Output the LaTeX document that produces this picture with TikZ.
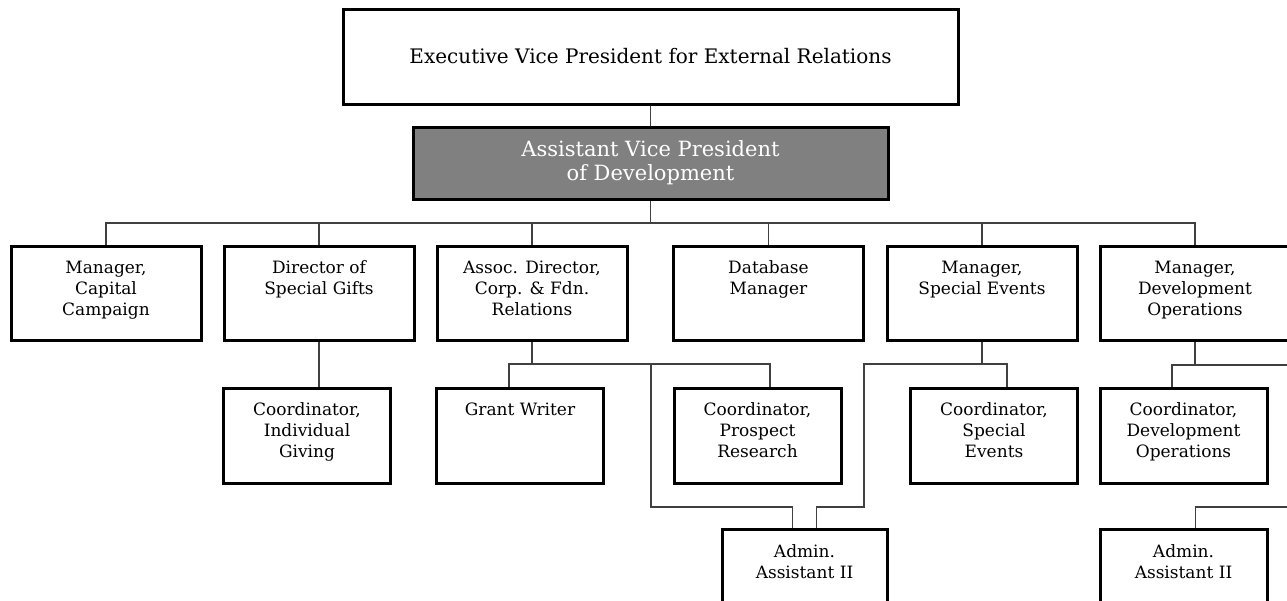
\documentclass[tikz,border=0pt]{standalone}
\usepackage{fontspec}
\setmainfont{DejaVu Serif}
\usetikzlibrary{calc}

% top-aligned text block for the fixed-size boxes
\newcommand{\boxlines}[1]{\parbox[c][80pt][t]{160pt}{\centering\rule{0pt}{20pt}#1}}

\begin{document}
\begin{tikzpicture}[x=1pt, y=-1pt,
    post/.style={draw=black, line width=3pt, minimum width=190pt, minimum height=94pt,
        inner sep=0pt, font=\fontsize{17}{21}\selectfont},
    subpost/.style={post, minimum width=167pt, minimum height=95pt},
    link/.style={draw=black!75, line width=1.5pt}]
    \useasboundingbox (0,0) rectangle (1287,600);
    \clip (0,0) rectangle (1287,600);

    % top of the chart
    \node (exec_vp) at (650.5, 56.5) [
        draw=black,
        line width=3pt,
        minimum width=615pt,
        minimum height=95pt,
        font=\fontsize{20}{24}\selectfont
    ] {Executive Vice President for External Relations};
    \node (asst_vp) at (650.5, 163) [
        draw=black,
        fill=gray,
        line width=3pt,
        minimum width=475pt,
        minimum height=72pt,
        align=center,
        text=white,
        font=\fontsize{21}{24}\selectfont
    ] {Assistant Vice President\\of Development};

    % first row
    \node[post] (cap_campaign) at (106, 293) {\boxlines{Manager,\\Capital\\Campaign}};
    \node[post] (special_gifts) at (319, 293) {\boxlines{Director of\\Special Gifts}};
    \node[post] (corp_fdn) at (532, 293) {\boxlines{Assoc. Director,\\Corp. \& Fdn.\\Relations}};
    \node[post] (database) at (768.5, 293) {\boxlines{Database\\Manager}};
    \node[post] (events_mgr) at (982, 293) {\boxlines{Manager,\\Special Events}};
    \node[post] (devops_mgr) at (1195, 293) {\boxlines{Manager,\\Development\\Operations}};

    % second row
    \node[subpost] (indiv_giving) at (307, 435.5) {\boxlines{Coordinator,\\Individual\\Giving}};
    \node[subpost] (grant_writer) at (520, 435.5) {\boxlines{Grant Writer}};
    \node[subpost] (prospect) at (757.5, 435.5) {\boxlines{Coordinator,\\Prospect\\Research}};
    \node[subpost] (events_coord) at (994, 435.5) {\boxlines{Coordinator,\\Special\\Events}};
    \node[subpost] (devops_coord) at (1183.5, 435.5) {\boxlines{Coordinator,\\Development\\Operations}};
    \node[subpost, minimum width=165pt] (admin_mid) at (804.5, 577) {\boxlines{Admin.\\Assistant II}};
    \node[subpost] (admin_right) at (1183.5, 577) {\boxlines{Admin.\\Assistant II}};

    % bends and free ends
    \coordinate (main_bus) at (650.5, 223);
    \coordinate (split) at (651, 364);
    \coordinate (jog) at (864, 364);
    \coordinate (low_bus) at (0, 507);
    \coordinate (edge_top) at (1290, 365);
    \coordinate (edge_low) at (1290, 507);
    \path (admin_mid.north) + (-12, 0) coordinate (mid_left);
    \path (admin_mid.north) + (12, 0) coordinate (mid_right);
    \path (admin_right.north) + (12, 0) coordinate (right_port);
    \path (events_coord.north) + (13, 0) coordinate (events_port);
    \path (devops_coord.north) + (-11.5, 0) coordinate (devops_port);
    \path (grant_writer.north) + (-11, 0) coordinate (grant_port);
    \path (prospect.north) + (12.5, 0) coordinate (prospect_port);

    % connectors
    \draw[link] (exec_vp) -- (asst_vp);
    \draw[link] (asst_vp) -- (main_bus);
    \draw[link] (cap_campaign.north) |- (main_bus) -| (devops_mgr.north);
    \foreach \unit in {special_gifts, corp_fdn, database, events_mgr}
        \draw[link] (\unit.north) -- (\unit.north |- main_bus);
    \draw[link] (special_gifts.south) -- (special_gifts.south |- indiv_giving.north);
    \draw[link] (corp_fdn.south) -- (corp_fdn.south |- split);
    \draw[link] (grant_port) |- (split) -| (prospect_port);
    \draw[link] (split) |- (mid_left |- low_bus) -- (mid_left);
    \draw[link] (mid_right) |- (jog |- low_bus) -- (jog) -| (events_port);
    \draw[link] (events_mgr.south) -- (events_mgr.south |- edge_top);
    \draw[link] (devops_mgr.south) -- (devops_mgr.south |- edge_top);
    \draw[link] (devops_port) |- (edge_top);
    \draw[link] (right_port) |- (edge_low);
\end{tikzpicture}
\end{document}
